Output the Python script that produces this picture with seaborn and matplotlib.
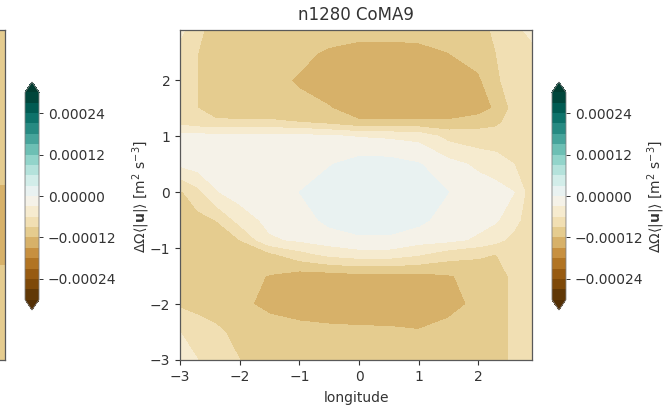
import numpy as np
import matplotlib
matplotlib.use("Agg")
import matplotlib.pyplot as plt
import seaborn as sns
from matplotlib.ticker import FuncFormatter

# grid nodes (degrees), rows listed north -> south
lon = [-3.0, -2.7, -2.4, -2.0, -1.5, -1.0, -0.5, 0.0, 0.5, 1.0, 1.5, 2.0, 2.3, 2.6, 2.9]
lat = [2.9, 2.5, 2.0, 1.5, 1.25, 1.0, 0.5, 0.0, -0.5, -0.85, -1.1, -1.5, -2.0, -2.5, -3.0]

# n1280 CoMA9 field, units of 1e-5 m2 s-3
coma9 = [
    [-5.0, -8.5, -10.0, -10.5, -10.5, -10.5, -10.6, -10.8, -10.8, -10.7, -10.5, -10.0, -8.5, -7.0, -5.0],
    [-7.5, -9.0, -10.5, -10.5, -10.8, -11.3, -12.4, -13.2, -13.2, -13.0, -12.0, -10.5, -9.0, -7.5, -7.0],
    [-7.5, -9.0, -10.5, -10.8, -11.2, -12.3, -14.0, -14.5, -14.5, -14.5, -14.0, -12.6, -9.5, -7.5, -7.0],
    [-7.5, -9.0, -10.5, -10.8, -11.0, -11.3, -11.8, -14.0, -14.5, -14.5, -14.2, -13.8, -11.5, -8.0, -7.0],
    [-7.0, -8.0, -8.5, -8.5, -8.5, -9.0, -10.0, -11.5, -11.5, -11.5, -11.5, -10.0, -9.5, -8.0, -7.0],
    [-2.0, -2.0, -2.0, -2.0, -2.0, -2.2, -2.6, -3.2, -3.5, -4.0, -7.0, -8.0, -8.0, -7.5, -7.0],
    [-2.5, -1.5, -1.3, -1.2, -1.2, -1.0, -0.2, 1.2, 1.2, 0.2, -2.0, -3.6, -4.5, -6.0, -7.0],
    [-9.5, -7.0, -3.3, -1.5, -1.0, 0.0, 1.5, 2.0, 2.0, 1.5, 0.0, -1.5, -2.0, -3.0, -8.0],
    [-10.0, -10.0, -9.0, -5.0, -2.0, -1.5, 0.8, 1.5, 1.5, 0.8, -1.5, -2.0, -2.7, -5.0, -8.0],
    [-10.5, -10.5, -10.5, -9.0, -3.5, -2.5, -1.5, -0.5, -0.5, -1.8, -2.2, -3.5, -5.0, -7.0, -8.0],
    [-10.5, -10.5, -10.5, -10.5, -9.5, -7.0, -5.0, -4.2, -4.2, -5.5, -7.5, -8.5, -9.0, -8.5, -8.0],
    [-10.5, -10.5, -10.5, -10.8, -12.2, -13.5, -13.5, -13.0, -13.0, -13.0, -12.3, -10.8, -10.0, -8.5, -8.0],
    [-9.5, -10.0, -10.3, -10.8, -13.5, -14.0, -14.0, -14.0, -14.0, -14.0, -13.5, -11.0, -10.0, -8.5, -8.0],
    [-6.0, -7.5, -8.5, -9.8, -9.3, -10.7, -11.2, -11.4, -11.5, -11.8, -10.5, -10.3, -10.0, -8.5, -8.0],
    [-4.5, -6.0, -7.5, -9.0, -10.0, -10.3, -10.5, -10.5, -10.5, -10.5, -10.5, -10.3, -10.0, -8.5, -7.5],
]

# neighbouring panel (only its eastern edge is in view), same units
left_lon = [-3.0, 2.9]
left_edge = [-9.0, -9.0, -9.0, -9.5, -10.0, -10.0, -10.5, -12.5, -14.0, -14.0, -13.0, -11.0, -10.0, -10.0, -9.5]

cbar_ticks = [-0.00024, -0.00012, 0.0, 0.00012, 0.00024]
ticks = [-3, -2, -1, 0, 1, 2]

sns.set_style("ticks")
plt.rcParams["font.family"] = ["DejaVu Sans"]
cmap = sns.color_palette("BrBG", as_cmap=True)
levels = np.linspace(-0.0003, 0.0003, 21)
cb_label = r"$\Delta\Omega\langle|\mathbf{u}|\rangle$ [m$^2$ s$^{-3}$]"
fmt = FuncFormatter(lambda v, p: f"{v:.5f}".replace("-", "\u2212"))
fs = 10
ink = "0.2"

fig = plt.figure(figsize=(6.69, 4.07), dpi=100)
ax_l = fig.add_axes([-0.5187, 0.1155, 0.5262, 0.8108])
cax_l = fig.add_axes([0.0374, 0.2383, 0.0209, 0.5602])
ax = fig.add_axes([0.2691, 0.1155, 0.5262, 0.8108])
cax = fig.add_axes([0.8251, 0.2383, 0.0209, 0.5602])

z_left = np.column_stack([left_edge, left_edge]) * 1e-5
cs_l = ax_l.contourf(left_lon, lat, z_left, levels=levels, cmap=cmap, extend="both")
z = np.array(coma9) * 1e-5
cs = ax.contourf(lon, lat, z, levels=levels, cmap=cmap, extend="both")

for a in (ax_l, ax):
    a.set_xlim(-3, 2.9)
    a.set_ylim(-3, 2.9)
    a.set_xticks(ticks)
    a.set_yticks(ticks)
    a.tick_params(labelsize=fs, colors=ink, length=3.5, width=0.8)
    for s in a.spines.values():
        s.set_color("0.35")
        s.set_linewidth(0.9)
# the neighbouring panel sits mostly outside the figure
ax_l.tick_params(labelbottom=False, labelleft=False)

ax.set_title("n1280 CoMA9", fontsize=12, color=ink, pad=7)
ax.set_xlabel("longitude", fontsize=fs, color=ink, labelpad=5)

for c, c_ax, pad in ((cs_l, cax_l, 10), (cs, cax, 1.5)):
    cb = fig.colorbar(c, cax=c_ax, ticks=cbar_ticks, format=fmt)
    cb.outline.set_edgecolor("0.5")
    cb.outline.set_linewidth(0.6)
    c_ax.tick_params(labelsize=fs, colors=ink, length=3, width=0.7)
    cb.set_label(cb_label, fontsize=fs, color=ink, labelpad=pad)

fig.savefig("out.png", dpi=100)
